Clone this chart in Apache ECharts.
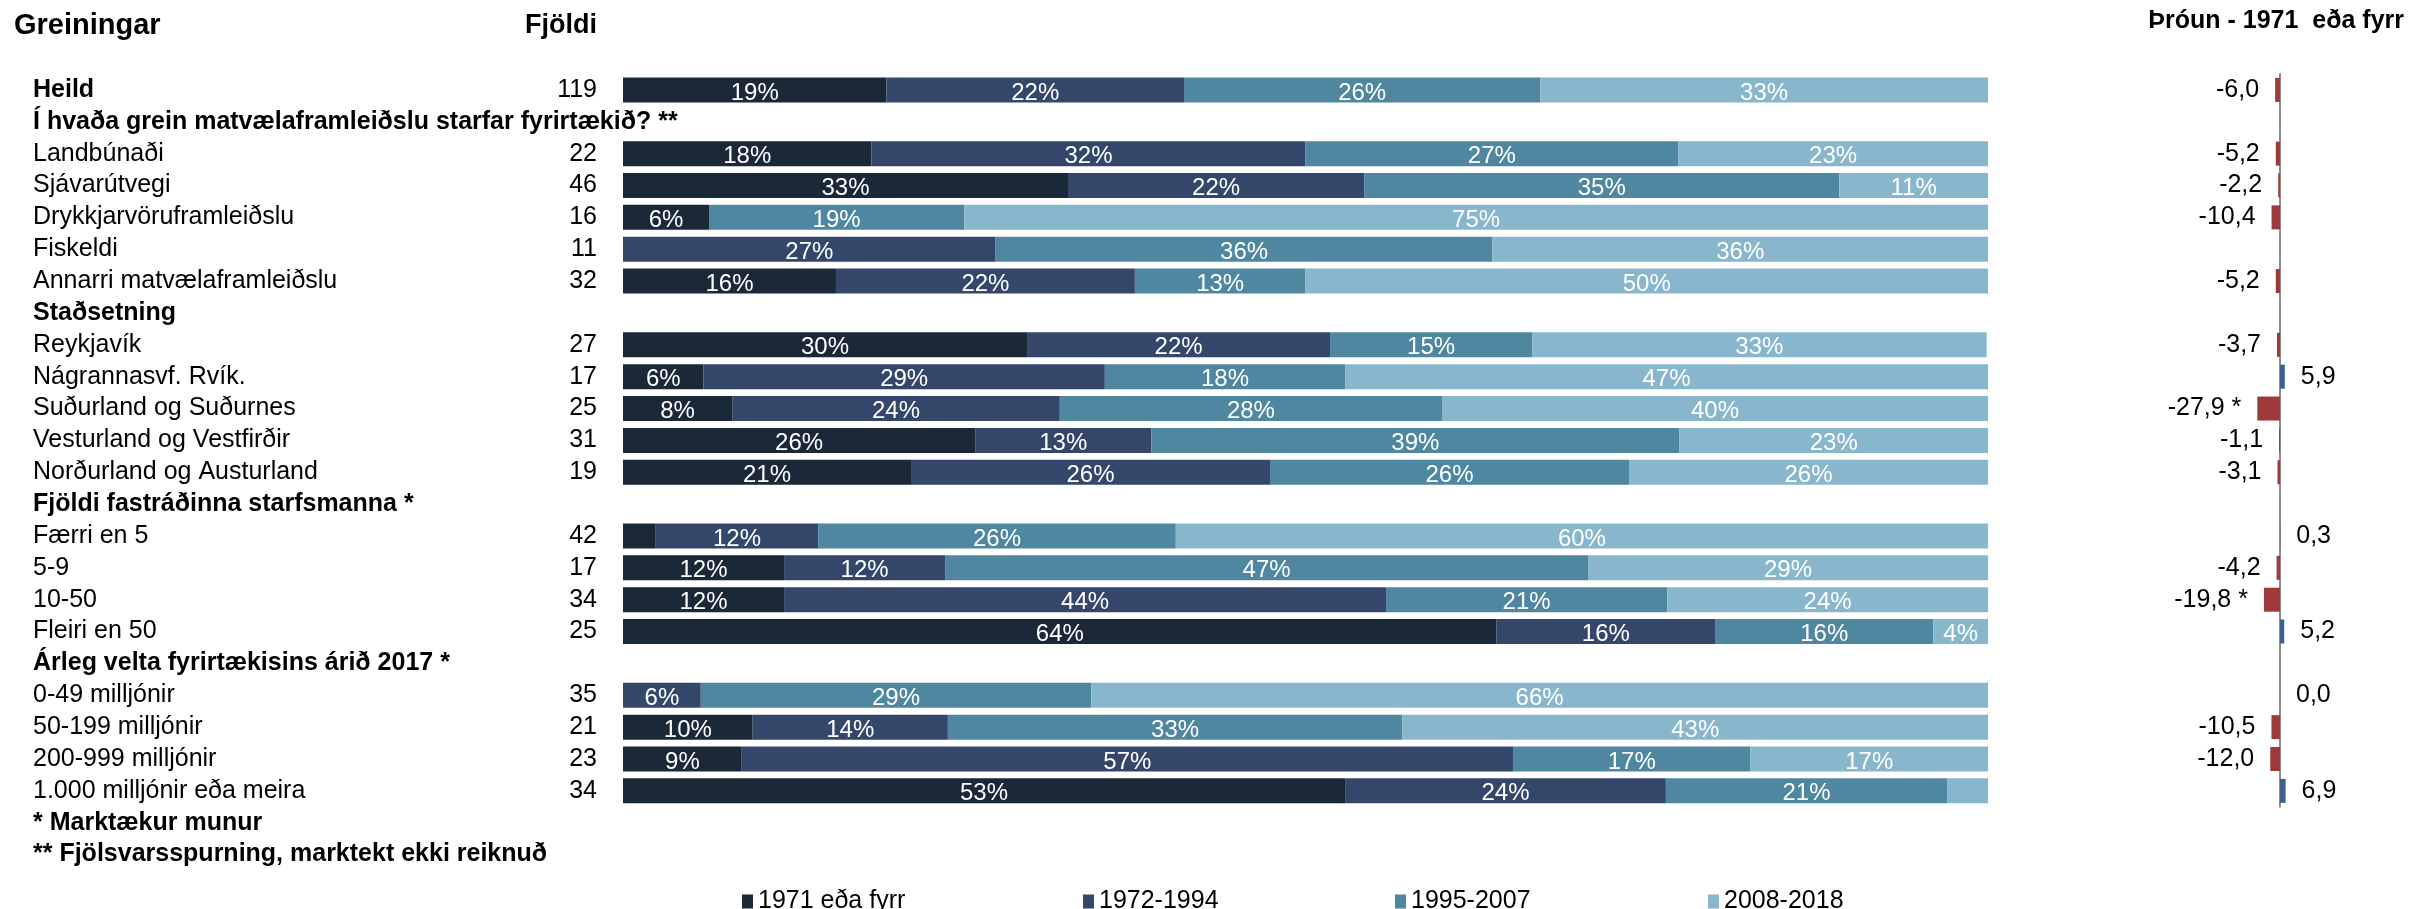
<!DOCTYPE html>
<html>
<head>
<meta charset="utf-8">
<title>Greiningar</title>
<script src="https://cdn.jsdelivr.net/npm/echarts@6/dist/echarts.min.js"></script>
<style>
  html, body {margin: 0; padding: 0; background: #fff;}
  #chart {width: 2410px; height: 909px;}
</style>
</head>
<body>
<div id="chart"></div>
<script>
// flokkar (ein lina i toflunni), '' i fjolda = fyrirsogn
var categories= [
  'Heild',
  'Í hvaða grein matvælaframleiðslu starfar fyrirtækið? **',
  'Landbúnaði', 'Sjávarútvegi', 'Drykkjarvöruframleiðslu', 'Fiskeldi', 'Annarri matvælaframleiðslu',
  'Staðsetning',
  'Reykjavík', 'Nágrannasvf. Rvík.', 'Suðurland og Suðurnes', 'Vesturland og Vestfirðir', 'Norðurland og Austurland',
  'Fjöldi fastráðinna starfsmanna *',
  'Færri en 5', '5-9', '10-50', 'Fleiri en 50',
  'Árleg velta fyrirtækisins árið 2017 *',
  '0-49 milljónir', '50-199 milljónir', '200-999 milljónir', '1.000 milljónir eða meira'
];
var counts= ['119', '', '22', '46', '16', '11', '32', '', '27', '17', '25', '31', '19', '', '42', '17', '34', '25', '', '35', '21', '23', '34'];
var footnotes= ['* Marktækur munur', '** Fjölsvarsspurning, marktekt ekki reiknuð'];

var seriesNames= ['1971 eða fyrr', '1972-1994', '1995-2007', '2008-2018'];
// hlutfall (%) i hverjum flokki, null = fyrirsogn
var s1971= [19.3, null, 18.2, 32.6, 6.3, 0, 15.6, null, 29.6, 5.9, 8, 25.8, 21.1, null, 2.4, 11.8, 11.8, 64, null, 0, 9.5, 8.7, 52.9];
var s1972= [21.8, null, 31.8, 21.7, 0, 27.3, 21.9, null, 22.2, 29.4, 24, 12.9, 26.3, null, 11.9, 11.8, 44.1, 16, null, 5.7, 14.3, 56.5, 23.5];
var s1995= [26.1, null, 27.3, 34.8, 18.7, 36.4, 12.5, null, 14.8, 17.6, 28, 38.7, 26.3, null, 26.2, 47.1, 20.6, 16, null, 28.6, 33.3, 17.4, 20.6];
var s2008= [32.8, null, 22.7, 10.9, 75, 36.3, 50, null, 33.3, 47.1, 40, 22.6, 26.3, null, 59.5, 29.4, 23.5, 4, null, 65.7, 42.9, 17.4, 3];

// throun - 1971 eda fyrr
var trend= [-6.0, null, -5.2, -2.2, -10.4, null, -5.2, null, -3.7, 5.9, -27.9, -1.1, -3.1, null, 0.3, -4.2, -19.8, 5.2, null, 0.0, -10.5, -12.0, 6.9];
var trendSig= [false, false, false, false, false, false, false, false, false, false, true, false, false, false, false, false, true, false, false, false, false, false, false];

var colors= ['#1b2838', '#34476a', '#4f87a0', '#88b6cc'];
var legendLeft= [737, 1078, 1390, 1703];
var font= '"Liberation Sans", Arial, sans-serif';
var rowPitch= 31.86;

var labelsLeft= categories.concat(footnotes);
var countsLeft= counts.concat(['', '']);

function pad(arr) {
  return arr.concat([null, null]);
}

var chart= echarts.init(document.getElementById('chart'), null, {renderer: 'canvas'});

var barSeries= [s1971, s1972, s1995, s2008].map(function(values, i) {
  return {
    name: seriesNames[i],
    type: 'bar',
    stack: 'total',
    xAxisIndex: 0,
    yAxisIndex: 0,
    barWidth: 25,
    data: pad(values),
    itemStyle: {color: colors[i]},
    label: {
      show: true,
      position: 'inside',
      offset: [0, 3],
      color: '#fff',
      fontFamily: font,
      fontSize: 24,
      formatter: function(p) {
        if(p.value=== null || p.value< 3.5)
          return '';
        return Math.round(p.value)+ '%';
      }
    },
    emphasis: {disabled: true}
  };
});

var trendData= trend.map(function(v, i) {
  if(v=== null)
    return null;
  return {
    value: v,
    sig: trendSig[i],
    itemStyle: {color: v< 0? '#a03a3a': '#3a5f95'},
    label: {position: v< 0? 'left': 'right'}
  };
});

// ein skyring fyrir hvern flokk, svo bilin verdi eins og i frumriti
var legends= seriesNames.map(function(name, i) {
  return {
    left: legendLeft[i],
    top: 884,
    itemWidth: 11,
    itemHeight: 14,
    itemGap: 8,
    icon: 'rect',
    selectedMode: false,
    textStyle: {fontSize: 25, color: '#000', fontFamily: font},
    data: [name]
  };
});

var option= {
  animation: false,
  textStyle: {fontFamily: font},
  title: [
    {text: 'Greiningar', left: 14, top: 11, padding: 0, textStyle: {fontSize: 29, fontWeight: 'bold', color: '#000', fontFamily: font}},
    {text: 'Fjöldi', left: 597, top: 12, padding: 0, textAlign: 'right', textStyle: {fontSize: 27, fontWeight: 'bold', color: '#000', fontFamily: font}},
    {text: 'Þróun - 1971  eða fyrr', right: 6, top: 9, padding: 0, textStyle: {fontSize: 25, fontWeight: 'bold', color: '#000', fontFamily: font}}
  ],
  legend: legends,
  grid: [
    {left: 623, width: 1365, top: 74, height: rowPitch* labelsLeft.length},
    {left: 2150, width: 260, top: 74, height: rowPitch* categories.length}
  ],
  xAxis: [
    {gridIndex: 0, type: 'value', min: 0, max: 100, show: false},
    {gridIndex: 1, type: 'value', min: -160, max: 160, show: false}
  ],
  yAxis: [
    { // nofn flokka
      gridIndex: 0, type: 'category', inverse: true, data: labelsLeft, position: 'left',
      axisLine: {show: false}, axisTick: {show: false},
      axisLabel: {
        interval: 0, align: 'left', margin: 590, fontSize: 25, color: '#000', fontFamily: font,
        formatter: function(value, index) {
          var bold= index=== 0 || countsLeft[index]=== '';
          return bold? '{b|'+ value+ '}': value;
        },
        rich: {b: {fontWeight: 'bold', fontSize: 25, color: '#000', fontFamily: font}}
      }
    },
    { // fjoldi
      gridIndex: 0, type: 'category', inverse: true, data: countsLeft, position: 'left',
      axisLine: {show: false}, axisTick: {show: false},
      axisLabel: {interval: 0, margin: 26, fontSize: 25, color: '#000', fontFamily: font}
    },
    { // throun
      gridIndex: 1, type: 'category', inverse: true, data: categories,
      axisLine: {show: true, onZero: true, lineStyle: {color: '#8c8c8c', width: 2}},
      axisTick: {show: false}, axisLabel: {show: false}
    }
  ],
  series: barSeries.concat([{
    name: 'Þróun',
    type: 'bar',
    xAxisIndex: 1,
    yAxisIndex: 2,
    barWidth: 24,
    data: trendData,
    label: {
      show: true,
      distance: 16,
      fontSize: 25,
      color: '#000',
      fontFamily: font,
      formatter: function(p) {
        return p.value.toFixed(1).replace('.', ',')+ (p.data.sig? ' *': '');
      }
    },
    emphasis: {disabled: true}
  }])
};

chart.setOption(option);
</script>
</body>
</html>
